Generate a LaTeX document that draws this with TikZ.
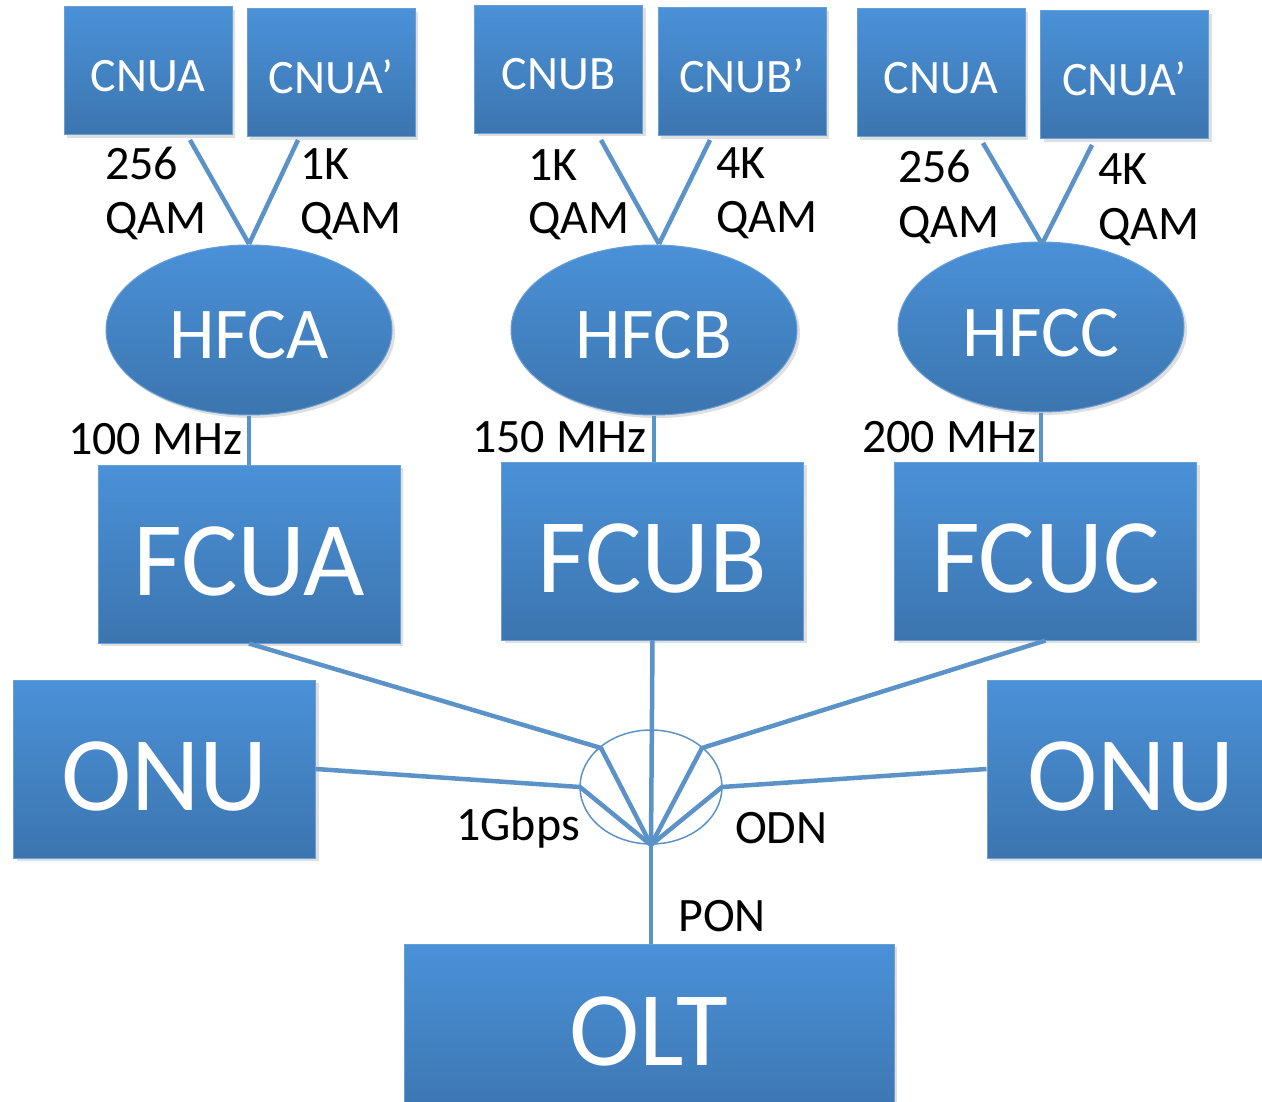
\documentclass[tikz,border=0pt]{standalone}
\usepackage{fontspec}
\setmainfont{Carlito}
\usetikzlibrary{shapes.geometric,shadows,calc}
\definecolor{boxtop}{HTML}{4A91D8}
\definecolor{boxbot}{HTML}{3C75AF}
\definecolor{boxedge}{HTML}{6A9FD5}
\definecolor{lnc}{HTML}{5B93C8}
\begin{document}
\begin{tikzpicture}[x=1pt,y=-1pt,
  blue shape/.style={draw=boxedge, line width=1pt, top color=boxtop, bottom color=boxbot,
    text=white, inner sep=0pt, text depth=0pt,
    drop shadow={opacity=0.25, shadow xshift=3pt, shadow yshift=-3pt}},
  cnubox/.style={blue shape, rectangle, minimum width=168pt, minimum height=128pt,
    font=\fontsize{48}{50}\selectfont, text height=41pt},
  hfcell/.style={blue shape, ellipse, minimum width=286pt, minimum height=170pt,
    font=\fontsize{73}{76}\selectfont, text height=58pt},
  bigbox/.style={blue shape, rectangle, minimum width=302pt, minimum height=178pt,
    font=\fontsize{106}{110}\selectfont, text height=83pt},
  lab/.style={inner sep=0pt, anchor=base west, font=\fontsize{48}{50}\selectfont},
  conn/.style={draw=lnc, line width=4.5pt, line join=round}]
\clip (0,0) rectangle (1262,1102);
\useasboundingbox (0,0) rectangle (1262,1102);
% anchors for the free ends of connectors
\coordinate (a1) at (190,140); \coordinate (a2) at (298,140); \coordinate (ha) at (249,244);
\coordinate (b1) at (601,140); \coordinate (b2) at (710,140); \coordinate (hb) at (659,244);
\coordinate (c1) at (983,143); \coordinate (c2) at (1092,145); \coordinate (hc) at (1042,244);
\coordinate (f) at (651,845);
\coordinate (vul) at (601,748); \coordinate (vur) at (702,748);
\coordinate (vl) at (580,787); \coordinate (vr) at (722,787);

% CNU boxes
\node[cnubox] (cnua1) at (148,71) {CNUA};
\node[cnubox] (cnua2) at (331,73) {CNUA’};
\node[cnubox] (cnub1) at (558.5,69.5) {CNUB};
\node[cnubox] (cnub2) at (742,72) {CNUB’};
\node[cnubox] (cnuc1) at (941,73) {CNUA};
\node[cnubox] (cnuc2) at (1124.5,75) {CNUA’};

% HFC ellipses
\node[hfcell] (hfca) at (249,330) {HFCA};
\node[hfcell] (hfcb) at (654,330) {HFCB};
\node[hfcell] (hfcc) at (1041,327) {HFCC};

% FCU boxes
\node[bigbox] (fcua) at (249,554) {FCUA};
\node[bigbox] (fcub) at (652.5,551) {FCUB};
\node[bigbox] (fcuc) at (1045.5,551) {FCUC};

% ONU and OLT
\node[bigbox] (onul) at (164.5,769) {ONU};
\node[bigbox, minimum width=288pt] (onur) at (1131,769) {ONU};
\node[bigbox, minimum width=490pt, text height=64pt] (olt) at (649,1033) {OLT};

% ODN ellipse
\node[ellipse, draw=lnc, line width=1.5pt, minimum width=142pt, minimum height=114pt, inner sep=0pt] (odn) at (651,787) {};

% connectors CNU - HFC
\draw[conn] (a1) -- (ha); \draw[conn] (a2) -- (ha);
\draw[conn] (b1) -- (hb); \draw[conn] (b2) -- (hb);
\draw[conn] (c1) -- (hc); \draw[conn] (c2) -- (hc);

% HFC - FCU
\draw[conn] (hfca.south) -- (fcua.north);
\draw[conn] (hfcb.south) -- (hfcb.south |- fcub.north);
\draw[conn] (hfcc.south) -- (hfcc.south |- fcuc.north);

% to ODN
\draw[conn] (fcua.south) -- (vul) -- (f);
\draw[conn] (onul.east) -- (vl) -- (f);
\draw[conn] (fcub.south) -- (f);
\draw[conn] (fcuc.south) -- (vur) -- (f);
\draw[conn] (onur.west) -- (vr) -- (f);
\draw[conn] (f) -- (f |- olt.north);

% labels
\node[lab] (l1) at (105,180) {256};
\node[lab] (l2) at (105,234) {QAM};
\node[lab] (l3) at (300,180) {1K};
\node[lab] (l4) at (300,234) {QAM};
\node[lab] (l5) at (528,181) {1K};
\node[lab] (l6) at (528,234) {QAM};
\node[lab] (l7) at (716,179) {4K};
\node[lab] (l8) at (716,233) {QAM};
\node[lab] (l9) at (898,183) {256};
\node[lab] (l10) at (898,238) {QAM};
\node[lab] (l11) at (1098,185) {4K};
\node[lab] (l12) at (1098,240) {QAM};
\node[lab] (m1) at (68,454) {100 MHz};
\node[lab] (m2) at (472,452) {150 MHz};
\node[lab] (m3) at (862,452) {200 MHz};
\node[lab] (g1) at (456,840) {1Gbps};
\node[lab] (g2) at (735,843) {ODN};
\node[lab] (g3) at (678,931) {PON};
\end{tikzpicture}
\end{document}
